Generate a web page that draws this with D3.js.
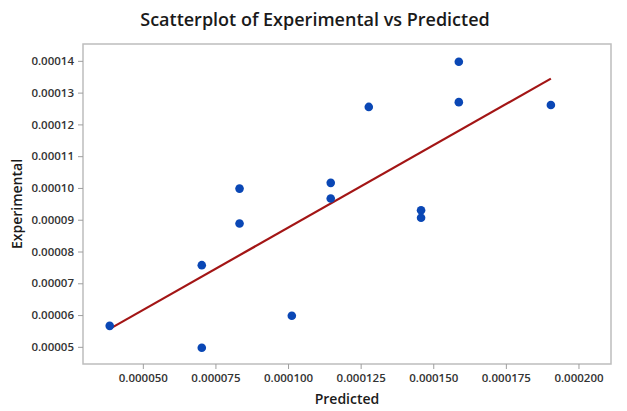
<!DOCTYPE html>
<html>
<head>
<meta charset="utf-8">
<script src="https://cdn.jsdelivr.net/npm/d3@7"></script>
<style>
  html, body { margin: 0; padding: 0; background: #fff; }
  svg { display: block; font-family: "Open Sans", "Noto Sans", sans-serif; }
</style>
</head>
<body>
<svg id="chart" width="627" height="411"></svg>
<script>
// Predicted vs experimental observations
const predicted = [0.0000386, 0.0000703, 0.0000703, 0.0000833, 0.0000833, 0.0001013, 0.0001147,
                   0.0001147, 0.0001278, 0.0001458, 0.0001458, 0.0001588, 0.0001588, 0.0001905];
const experimental = [0.0000566, 0.0000757, 0.0000497, 0.0000998, 0.0000888, 0.0000598, 0.0001016,
                      0.0000967, 0.0001255, 0.0000930, 0.0000906, 0.0001397, 0.0001270, 0.0001261];

const xTicks = [0.00005, 0.000075, 0.0001, 0.000125, 0.00015, 0.000175, 0.0002];
const yTicks = [0.00005, 0.00006, 0.00007, 0.00008, 0.00009, 0.0001, 0.00011, 0.00012, 0.00013, 0.00014];

const xDomain = [0.0000294, 0.0002112];
const yDomain = [0.0000446, 0.0001453];

const svg = d3.select("#chart");
const plot = { left: 83, right: 611, top: 44, bottom: 364 };

const x = d3.scaleLinear().domain(xDomain).range([plot.left, plot.right]);
const y = d3.scaleLinear().domain(yDomain).range([plot.bottom, plot.top]);

// Title
svg.append("text")
  .attr("x", 315).attr("y", 26)
  .attr("text-anchor", "middle")
  .attr("font-size", 18).attr("font-weight", 600)
  .attr("fill", "#1a1a1a")
  .text("Scatterplot of Experimental vs Predicted");

// Plot frame
svg.append("rect")
  .attr("x", plot.left).attr("y", plot.top)
  .attr("width", plot.right - plot.left).attr("height", plot.bottom - plot.top)
  .attr("fill", "#fff").attr("stroke", "#bdbdbd").attr("stroke-width", 1.5);

// Axes
const xAxis = d3.axisBottom(x).tickValues(xTicks).tickFormat(d3.format(".6f")).tickSizeOuter(0).tickSize(5).tickPadding(5);
const yAxis = d3.axisLeft(y).tickValues(yTicks).tickFormat(d3.format(".5f")).tickSizeOuter(0).tickSize(5).tickPadding(4);

const gx = svg.append("g").attr("transform", `translate(0,${plot.bottom})`).call(xAxis);
const gy = svg.append("g").attr("transform", `translate(${plot.left},0)`).call(yAxis);

[gx, gy].forEach(g => {
  g.select(".domain").remove();
  g.selectAll(".tick line").attr("stroke", "#9e9e9e");
  g.selectAll(".tick text")
    .attr("font-size", 11.5).attr("font-weight", 600)
    .attr("fill", "#333")
    .attr("font-family", "'Open Sans', 'Noto Sans', sans-serif");
});

// Axis titles
svg.append("text")
  .attr("x", (plot.left + plot.right) / 2).attr("y", 404)
  .attr("text-anchor", "middle")
  .attr("font-size", 14).attr("font-weight", 600).attr("fill", "#1a1a1a")
  .text("Predicted");

svg.append("text")
  .attr("transform", `translate(22,${(plot.top + plot.bottom) / 2}) rotate(-90)`)
  .attr("text-anchor", "middle")
  .attr("font-size", 14).attr("font-weight", 600).attr("fill", "#1a1a1a")
  .text("Experimental");

// Least-squares fit across the predicted range
const data = predicted.map((p, i) => ({ p, e: experimental[i] }));
const mx = d3.mean(predicted), my = d3.mean(experimental);
const sxy = d3.sum(data, d => (d.p - mx) * (d.e - my));
const sxx = d3.sum(data, d => (d.p - mx) ** 2);
const slope = sxy / sxx, intercept = my - slope * mx;
const [pMin, pMax] = d3.extent(predicted);

svg.append("line")
  .attr("x1", x(pMin)).attr("y1", y(intercept + slope * pMin))
  .attr("x2", x(pMax)).attr("y2", y(intercept + slope * pMax))
  .attr("stroke", "#a31515").attr("stroke-width", 2.2);

// Observations
svg.append("g").selectAll("circle")
  .data(data)
  .join("circle")
  .attr("cx", d => x(d.p))
  .attr("cy", d => y(d.e))
  .attr("r", 4.3)
  .attr("fill", "#0a47b5");
</script>
</body>
</html>
